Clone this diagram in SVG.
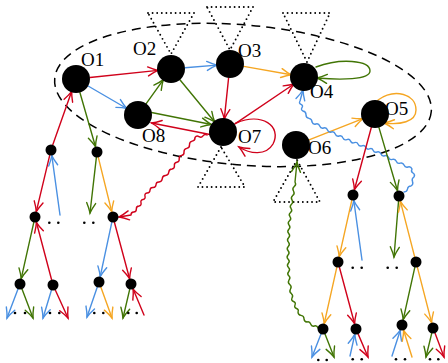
<svg xmlns="http://www.w3.org/2000/svg" width="448" height="363" viewBox="0 0 448 363">
  <style>
    .e { fill: none; stroke-width: 1.4; stroke-linecap: round; stroke-linejoin: round; }
    .r { stroke: #D0021B; marker-end: url(#mr); }
    .b { stroke: #4A90E2; marker-end: url(#mb); }
    .g { stroke: #417505; marker-end: url(#mg); }
    .o { stroke: #F5A623; marker-end: url(#mo); }
    .tri { fill: none; stroke: #000; stroke-width: 1.9; stroke-linecap: round; stroke-dasharray: 0 4.6; }
    .big { fill: #000; }
    .small { fill: #000; }
    .dot { fill: #000; }
    .lbl { font-family: "Liberation Serif", "DejaVu Serif", serif; font-size: 19px; fill: #000; }
  </style>
  <defs>
    <marker id="mr" markerUnits="userSpaceOnUse" markerWidth="24" markerHeight="24" orient="auto" style="overflow:visible">
      <path d="M-10,-4.5 Q-4,-1.2 0,0 Q-4,1.2 -10,4.5" fill="none" stroke="#D0021B" stroke-width="1.4" stroke-linecap="round"/>
    </marker>
    <marker id="mb" markerUnits="userSpaceOnUse" markerWidth="24" markerHeight="24" orient="auto" style="overflow:visible">
      <path d="M-10,-4.5 Q-4,-1.2 0,0 Q-4,1.2 -10,4.5" fill="none" stroke="#4A90E2" stroke-width="1.4" stroke-linecap="round"/>
    </marker>
    <marker id="mg" markerUnits="userSpaceOnUse" markerWidth="24" markerHeight="24" orient="auto" style="overflow:visible">
      <path d="M-10,-4.5 Q-4,-1.2 0,0 Q-4,1.2 -10,4.5" fill="none" stroke="#417505" stroke-width="1.4" stroke-linecap="round"/>
    </marker>
    <marker id="mo" markerUnits="userSpaceOnUse" markerWidth="24" markerHeight="24" orient="auto" style="overflow:visible">
      <path d="M-10,-4.5 Q-4,-1.2 0,0 Q-4,1.2 -10,4.5" fill="none" stroke="#F5A623" stroke-width="1.4" stroke-linecap="round"/>
    </marker>
  </defs>

  <!-- dashed region around the top-level objects -->
  <ellipse cx="243" cy="95" rx="189" ry="70" transform="rotate(5 243 95)" fill="none" stroke="#000" stroke-width="1.5" stroke-dasharray="9 6"/>

  <!-- dotted subtrees -->
  <g id="subtrees">
    <polygon class="tri" points="148,13 194,13 171,54"/>
    <polygon class="tri" points="207,7 253,7 230,50"/>
    <polygon class="tri" points="283,13 330,13 307,62"/>
    <polygon class="tri" points="221,147 198,187 245,187"/>
    <polygon class="tri" points="297,160 273,202 320,202"/>
  </g>

  <g id="connectors">
    <!-- edges among the top-level objects -->
    <path class="e r" d="M89.9,77.5 L158,70.4"/>
    <path class="e b" d="M185,67.8 L217,65.1"/>
    <path class="e o" d="M243.8,66.4 L291.2,74.8"/>
    <path class="e b" d="M88.1,86 L126.8,108.5"/>
    <path class="e g" d="M146.2,103.6 L163.4,79.6"/>
    <path class="e g" d="M179.9,79.8 L214.7,122"/>
    <path class="e g" d="M151.5,112.5 L211.5,124.5"/>
    <path class="e r" d="M210,134.5 L151.5,123"/>
    <path class="e r" d="M228.6,77.9 L224.3,119.1"/>
    <path class="e r" d="M234.6,124.1 L294,84"/>
    <path class="e o" d="M309,139.9 L362.9,118.7"/>
    <!-- self loops -->
    <path class="e g" d="M316,67 C340,58 370,60 370,71 C370,80 340,80 317,78"/>
    <path class="e o" d="M378,100 C395,88 416,94 416,110 C416,122 400,125 384,123"/>
    <path class="e r" d="M236,123 C262,112 282,126 273,144 C266,156 250,154 239,147"/>

    <!-- wavy references -->
    <path class="e r" d="M207,135 q-2.41,-1.54 -4,0.833 t-4,0.833 -4,0.834 q0.22,3.02 -2.75,3.625 t-2.75,3.625 -2.75,3.625 -2.75,3.625 q0.43,2.85 -2.4,3.4 t-2.4,3.4 -2.4,3.4 -2.4,3.4 -2.4,3.4 q-3.04,0.21 -3.25,3.25 t-3.25,3.25 -3.25,3.25 -3.25,3.25 q-2.85,-0.1 -3,2.75 t-3,2.75 -3,2.75 -3,2.75 q-2.7,0.58 -2,3.25 t-2,3.25 -2,3.25 -2,3.25 q-2.83,0.17 -2.667,3 t-2.667,3 -2.666,3 L119,217"/>
    <path class="e b" d="M404,192 q3.05,0.02 3.5,-3 t3.5,-3 q2.65,-1.62 1.5,-4.5 t1.5,-4.5 q1.44,-2.49 -1,-4 t-1,-4 q-1.11,-2.79 -4,-2 t-4,-2 q-1.06,-2.73 -3.857,-1.857 t-3.857,-1.857 -3.857,-1.857 -3.857,-1.857 -3.857,-1.857 -3.857,-1.857 -3.858,-1.858 q-2.65,1.07 -3.778,-1.556 t-3.778,-1.556 -3.778,-1.556 -3.778,-1.556 -3.778,-1.556 -3.778,-1.556 -3.778,-1.556 -3.778,-1.556 -3.776,-1.552 q-1.02,-2.78 -3.875,-2 t-3.875,-2 -3.875,-2 -3.875,-2 -3.875,-2 -3.875,-2 -3.875,-2 -3.875,-2 q0.05,-3.1 -3,-3.667 t-3,-3.667 -3,-3.666 q-2.42,-1.09 -1,-3.333 t-1,-3.333 -1,-3.334 L303,90"/>
    <path class="e g" d="M318,328 q-0.88,-2.76 -3.667,-2 t-3.667,-2 -3.666,-2 q-2.99,-0.33 -3,-3.333 t-3,-3.333 -3,-3.334 q1.09,-2.54 -1.5,-3.5 t-1.5,-3.5 -1.5,-3.5 -1.5,-3.5 q1.6,-2.58 -0.75,-4.5 t-0.75,-4.5 -0.75,-4.5 -0.75,-4.5 q1.92,-2.16 -0.1667,-4.1667 t-0.1667,-4.1667 -0.1667,-4.1667 -0.1667,-4.1667 -0.1667,-4.1667 -0.1665,-4.1665 q2.07,-2.08 0.1429,-4.2857 t0.1429,-4.2857 0.1429,-4.2857 0.1429,-4.2857 0.1429,-4.2857 0.1429,-4.2857 0.1426,-4.2858 q-1.74,-2.32 0.5,-4.1667 t0.5,-4.1667 0.5,-4.1667 0.5,-4.1667 0.5,-4.1667 0.5,-4.1665 q-1.6,-2.58 0.75,-4.5 t0.75,-4.5 0.75,-4.5 0.75,-4.5 L297,162"/>

    <!-- left tree -->
    <path class="e r" d="M52.8,144.8 L71.7,91.3"/>
    <path class="e g" d="M79.9,92.5 L95.5,146.7"/>
    <path class="e r" d="M49.7,155.4 L36.3,211.6"/>
    <path class="e b" d="M60,215 L51.8,155.5"/>
    <path class="e g" d="M96.4,157.2 L90,213"/>
    <path class="e o" d="M98.3,157.3 L111.7,211.7"/>
    <path class="e g" d="M33.8,222.4 L21.2,278.6"/>
    <path class="e r" d="M51.6,279.7 L36.4,222.3"/>
    <path class="e b" d="M111.8,222.4 L100.2,276.6"/>
    <path class="e r" d="M114.4,222.3 L129.6,278.7"/>
    <path class="e b" d="M18,289.1 L7,318"/>
    <path class="e g" d="M22,289.1 L33,318"/>
    <path class="e b" d="M51.4,290.3 L43,318"/>
    <path class="e r" d="M55.3,290 L68,318"/>
    <path class="e b" d="M97.2,287.2 L87,317"/>
    <path class="e o" d="M100.9,287.2 L112,318"/>
    <path class="e g" d="M129.7,289.4 L123,318"/>
    <path class="e r" d="M144,315 L133.1,289.1"/>

    <!-- right tree -->
    <path class="e r" d="M371.3,127.5 L354.4,189.7"/>
    <path class="e g" d="M378.9,127.4 L397.5,190.7"/>
    <path class="e o" d="M351.8,200.4 L339.2,256.6"/>
    <path class="e b" d="M362,260 L353.8,200.5"/>
    <path class="e g" d="M398.5,201.5 L394,257"/>
    <path class="e o" d="M414.6,256.7 L400.4,201.3"/>
    <path class="e o" d="M336.8,267.4 L324.2,323.6"/>
    <path class="e r" d="M339.4,267.3 L354.6,323.7"/>
    <path class="e g" d="M414.8,267.4 L403.2,319.6"/>
    <path class="e o" d="M417.4,267.3 L431.6,322.7"/>
    <path class="e b" d="M321,334.1 L312,357"/>
    <path class="e g" d="M325,334.1 L334,357"/>
    <path class="e b" d="M350,356 L354.8,334.4"/>
    <path class="e r" d="M358.2,334.1 L368,357"/>
    <path class="e b" d="M392,356 L400.3,330.2"/>
    <path class="e o" d="M412,357 L403.6,330.3"/>
    <path class="e g" d="M431.7,333.4 L426,357"/>
    <path class="e r" d="M435,333.1 L444,357"/>
  </g>

  <!-- elided children -->
  <g id="ellipses">
    <circle class="dot" cx="49.3" cy="222.7" r="1.3"/><circle class="dot" cx="58.3" cy="222.7" r="1.3"/>
    <circle class="dot" cx="84.3" cy="222.7" r="1.3"/><circle class="dot" cx="93.3" cy="222.7" r="1.3"/>
    <circle class="dot" cx="15" cy="313" r="1.3"/><circle class="dot" cx="25" cy="313" r="1.3"/>
    <circle class="dot" cx="50" cy="313" r="1.3"/><circle class="dot" cx="59.3" cy="313" r="1.3"/>
    <circle class="dot" cx="94.3" cy="313" r="1.3"/><circle class="dot" cx="103.3" cy="313" r="1.3"/>
    <circle class="dot" cx="128.3" cy="313" r="1.3"/><circle class="dot" cx="136.7" cy="313" r="1.3"/>
    <circle class="dot" cx="352.7" cy="267.7" r="1.3"/><circle class="dot" cx="361.7" cy="267.7" r="1.3"/>
    <circle class="dot" cx="387.7" cy="267.7" r="1.3"/><circle class="dot" cx="396.7" cy="267.7" r="1.3"/>
    <circle class="dot" cx="318.3" cy="360" r="1.3"/><circle class="dot" cx="326.7" cy="360" r="1.3"/>
    <circle class="dot" cx="352.7" cy="359.3" r="1.3"/><circle class="dot" cx="361.7" cy="359.3" r="1.3"/>
    <circle class="dot" cx="396" cy="359.3" r="1.3"/><circle class="dot" cx="405" cy="359.3" r="1.3"/>
    <circle class="dot" cx="430" cy="359.3" r="1.3"/><circle class="dot" cx="438.3" cy="359.3" r="1.3"/>
  </g>

  <!-- top-level objects -->
  <g id="o1"><circle class="big" cx="76" cy="79" r="14"/><text class="lbl" x="81" y="66">O1</text></g>
  <g id="o2"><circle class="big" cx="171" cy="69" r="14"/><text class="lbl" x="133" y="55">O2</text></g>
  <g id="o3"><circle class="big" cx="230" cy="64" r="14"/><text class="lbl" x="238" y="56.5">O3</text></g>
  <g id="o4"><circle class="big" cx="304" cy="77" r="14"/><text class="lbl" x="310" y="98">O4</text></g>
  <g id="o5"><circle class="big" cx="375" cy="114" r="14"/><text class="lbl" x="385" y="115">O5</text></g>
  <g id="o6"><circle class="big" cx="296" cy="145" r="14"/><text class="lbl" x="308" y="154">O6</text></g>
  <g id="o7"><circle class="big" cx="223" cy="132" r="14"/><text class="lbl" x="238" y="143">O7</text></g>
  <g id="o8"><circle class="big" cx="138" cy="115" r="14"/><text class="lbl" x="142" y="142">O8</text></g>

  <!-- left tree nodes -->
  <g id="l1a"><circle class="small" cx="51" cy="150" r="5.5"/></g>
  <g id="l1b"><circle class="small" cx="97" cy="152" r="5.5"/></g>
  <g id="l2a"><circle class="small" cx="35" cy="217" r="5.5"/></g>
  <g id="l2b"><circle class="small" cx="113" cy="217" r="5.5"/></g>
  <g id="l3a"><circle class="small" cx="20" cy="284" r="5.5"/></g>
  <g id="l3b"><circle class="small" cx="53" cy="285" r="5.5"/></g>
  <g id="l3c"><circle class="small" cx="99" cy="282" r="5.5"/></g>
  <g id="l3d"><circle class="small" cx="131" cy="284" r="5.5"/></g>

  <!-- right tree nodes -->
  <g id="r1a"><circle class="small" cx="353" cy="195" r="5.5"/></g>
  <g id="r1b"><circle class="small" cx="399" cy="196" r="5.5"/></g>
  <g id="r2a"><circle class="small" cx="338" cy="262" r="5.5"/></g>
  <g id="r2b"><circle class="small" cx="416" cy="262" r="5.5"/></g>
  <g id="r3a"><circle class="small" cx="323" cy="329" r="5.5"/></g>
  <g id="r3b"><circle class="small" cx="356" cy="329" r="5.5"/></g>
  <g id="r3c"><circle class="small" cx="402" cy="325" r="5.5"/></g>
  <g id="r3d"><circle class="small" cx="433" cy="328" r="5.5"/></g>
</svg>
